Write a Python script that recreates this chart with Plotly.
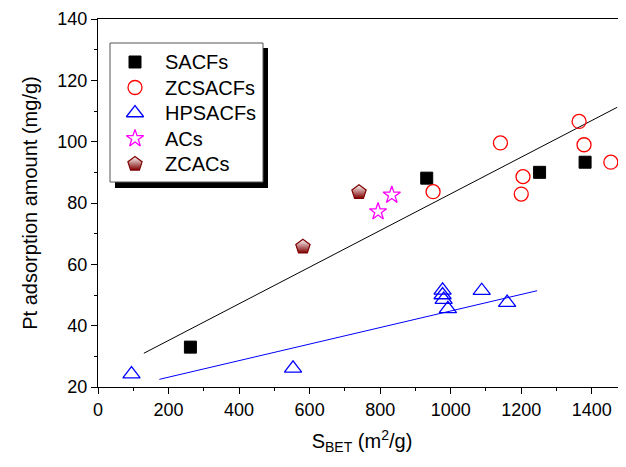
import plotly.graph_objects as go

# ---- data ----
sacfs_x = [262, 932, 1252, 1381]
sacfs_y = [33.0, 88.1, 90.0, 93.3]

zcsacfs_x = [950, 1141, 1205, 1200, 1364, 1378, 1454]
zcsacfs_y = [83.7, 99.6, 88.6, 82.9, 106.6, 99.0, 93.3]

hpsacfs_x = [95, 553, 977, 977, 980, 992, 1088, 1160]
hpsacfs_y = [24.2, 26.1, 51.5, 50.0, 48.5, 45.5, 51.4, 47.5]

acs_x = [833, 794]
acs_y = [82.6, 77.2]

zcacs_x = [740, 581]
zcacs_y = [83.5, 65.7]

fit1_x = [130, 1472]
fit1_y = [31.0, 111.2]
fit2_x = [174, 1245]
fit2_y = [22.5, 51.4]

series_names = ["SACFs", "ZCSACFs", "HPSACFs", "ACs", "ZCACs"]

FONT = "Liberation Sans, Arial, sans-serif"

markers = {
    "SACFs": dict(symbol="square", size=12, color="black", line=dict(color="black", width=1)),
    "ZCSACFs": dict(symbol="circle-open", size=14, color="#ff0000", line=dict(color="#ff0000", width=1.3)),
    "HPSACFs": dict(symbol="triangle-up-open", size=15, color="#0000ff", line=dict(color="#0000ff", width=1.3)),
    "ACs": dict(symbol="star-open", size=13, color="#ff00ff", line=dict(color="#ff00ff", width=1.3)),
    "ZCACs": dict(symbol="pentagon", size=15, color="#ffffff",
                  gradient=dict(type="vertical", color="#800000"),
                  line=dict(color="#800000", width=1.2)),
}
series_data = {
    "SACFs": (sacfs_x, sacfs_y),
    "ZCSACFs": (zcsacfs_x, zcsacfs_y),
    "HPSACFs": (hpsacfs_x, hpsacfs_y),
    "ACs": (acs_x, acs_y),
    "ZCACs": (zcacs_x, zcacs_y),
}

# page body has an 8px margin; size the figure so it fills the rest of the window
PAGE_OFF = 8
W, H = 626 - PAGE_OFF, 467 - PAGE_OFF
L, T, B, R = 98 - PAGE_OFF, 19 - PAGE_OFF, 80, 0
# plot-area extent in page pixels (for the legend overlay axis)
PX0, PX1, PY0, PY1 = 98, 626, 387, 19

fig = go.Figure()
fig.add_trace(go.Scatter(x=fit1_x, y=fit1_y, mode="lines",
                         line=dict(color="black", width=1), showlegend=False, hoverinfo="skip"))
fig.add_trace(go.Scatter(x=fit2_x, y=fit2_y, mode="lines",
                         line=dict(color="#0000ff", width=1), showlegend=False, hoverinfo="skip"))

for name in series_names:
    xs, ys = series_data[name]
    fig.add_trace(go.Scatter(x=xs, y=ys, mode="markers", name=name,
                             marker=markers[name], showlegend=False))

# ---- hand-drawn legend on a pixel-unit overlay axis ----
leg_sym_x = 135
leg_txt_x = 163
leg_rows_y = [62, 87.5, 113, 138.5, 164]
for name, yy in zip(series_names, leg_rows_y):
    fig.add_trace(go.Scatter(x=[leg_sym_x], y=[yy], mode="markers", xaxis="x2", yaxis="y2",
                             marker=markers[name], showlegend=False, hoverinfo="skip"))
annotations = [
    dict(x=leg_txt_x, y=yy, xref="x2", yref="y2", text=name, showarrow=False,
         xanchor="left", yanchor="middle", font=dict(family=FONT, size=20, color="black"))
    for name, yy in zip(series_names, leg_rows_y)
]
shapes = [
    dict(type="rect", xref="x2", yref="y2", x0=115, x1=268, y0=48, y1=188,
         fillcolor="black", line=dict(width=0), layer="below"),
    dict(type="rect", xref="x2", yref="y2", x0=110, x1=263, y0=43, y1=182,
         fillcolor="white", line=dict(color="#555555", width=1), layer="below"),
]

fig.update_layout(
    width=W, height=H,
    margin=dict(l=L, r=R, t=T, b=B),
    paper_bgcolor="white", plot_bgcolor="white",
    font=dict(family=FONT, size=18, color="black"),
    shapes=shapes, annotations=annotations,
    showlegend=False,
    xaxis=dict(range=[0, 1497], tickmode="linear", tick0=0, dtick=200,
               ticks="outside", ticklen=6, tickwidth=1, tickcolor="black",
               minor=dict(dtick=100, ticks="outside", ticklen=3, tickcolor="black"),
               showline=True, linecolor="black", linewidth=1, mirror=True,
               showgrid=False, zeroline=False, automargin=False,
               tickfont=dict(size=18),
               title=dict(text="S<sub>BET</sub> (m<sup>2</sup>/g)", font=dict(size=20), standoff=15)),
    yaxis=dict(range=[20, 140], tickmode="linear", tick0=20, dtick=20,
               ticks="outside", ticklen=6, tickwidth=1, tickcolor="black",
               minor=dict(dtick=10, ticks="outside", ticklen=3, tickcolor="black"),
               showline=True, linecolor="black", linewidth=1, mirror=False,
               showgrid=False, zeroline=False, automargin=False,
               tickfont=dict(size=18),
               title=dict(text="Pt adsorption amount (mg/g)", font=dict(size=20), standoff=14)),
    xaxis2=dict(range=[PX0, PX1], overlaying="x", visible=False, fixedrange=True),
    yaxis2=dict(range=[PY0, PY1], overlaying="y", visible=False, fixedrange=True),
)

fig.write_html("out.html")
